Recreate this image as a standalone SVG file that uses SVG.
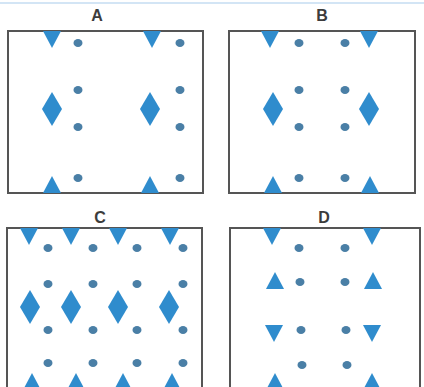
<svg xmlns="http://www.w3.org/2000/svg" width="424" height="387" viewBox="0 0 424 387">
<style>
.box{fill:#fff;stroke:#555;stroke-width:2}
.sh{fill:#2f8ccd}
.dot{fill:#4a7fa6}
.lbl{font-family:"Liberation Sans",Arial,sans-serif;font-size:16px;font-weight:bold;fill:#3c3c3c;text-anchor:middle}
</style>
<defs>
<polygon id="down" class="sh" points="-9,0 9,0 0,17"/>
<polygon id="up" class="sh" points="-9,0 9,0 0,-17"/>
<polygon id="dia" class="sh" points="0,-17 10,0 0,17 -10,0"/>
<ellipse id="dot" class="dot" rx="4.5" ry="4"/>
</defs>
<rect x="0" y="0" width="424" height="387" fill="#fff"/>
<rect x="0" y="2" width="424" height="2" fill="#d3e5f5"/>

<g id="panelA">
<text x="97" y="21" class="lbl">A</text>
<rect class="box" x="8" y="31" width="195" height="162"/>
<use href="#down" x="52" y="31"/><use href="#down" x="152" y="31"/>
<use href="#dia" x="52" y="109"/><use href="#dia" x="150" y="109"/>
<use href="#up" x="52" y="193"/><use href="#up" x="150" y="193"/>
<use href="#dot" x="78" y="43"/><use href="#dot" x="180" y="43"/>
<use href="#dot" x="78" y="90"/><use href="#dot" x="180" y="90"/>
<use href="#dot" x="78" y="127"/><use href="#dot" x="180" y="127"/>
<use href="#dot" x="78" y="178"/><use href="#dot" x="180" y="178"/>
</g>

<g id="panelB">
<text x="322" y="21" class="lbl">B</text>
<rect class="box" x="229" y="31" width="186" height="162"/>
<use href="#down" x="270" y="31"/><use href="#down" x="369" y="31"/>
<use href="#dia" x="273" y="109"/><use href="#dia" x="369" y="109"/>
<use href="#up" x="273" y="193"/><use href="#up" x="370" y="193"/>
<use href="#dot" x="299" y="43"/><use href="#dot" x="345" y="43"/>
<use href="#dot" x="299" y="90"/><use href="#dot" x="345" y="90"/>
<use href="#dot" x="299" y="127"/><use href="#dot" x="345" y="127"/>
<use href="#dot" x="299" y="178"/><use href="#dot" x="345" y="178"/>
</g>

<g id="panelC">
<text x="100" y="223" class="lbl">C</text>
<rect class="box" x="7" y="228" width="195" height="180"/>
<use href="#down" x="29" y="228"/><use href="#down" x="71" y="228"/><use href="#down" x="118" y="228"/><use href="#down" x="170" y="228"/>
<use href="#dia" x="30" y="307"/><use href="#dia" x="71" y="307"/><use href="#dia" x="118" y="307"/><use href="#dia" x="169" y="307"/>
<use href="#up" x="32" y="390"/><use href="#up" x="76" y="390"/><use href="#up" x="123" y="390"/><use href="#up" x="172" y="390"/>
<use href="#dot" x="48" y="248"/><use href="#dot" x="93" y="248"/><use href="#dot" x="137" y="248"/><use href="#dot" x="183" y="248"/>
<use href="#dot" x="48" y="284"/><use href="#dot" x="93" y="284"/><use href="#dot" x="137" y="284"/><use href="#dot" x="183" y="284"/>
<use href="#dot" x="48" y="330"/><use href="#dot" x="93" y="330"/><use href="#dot" x="137" y="330"/><use href="#dot" x="183" y="330"/>
<use href="#dot" x="48" y="363"/><use href="#dot" x="93" y="363"/><use href="#dot" x="137" y="363"/><use href="#dot" x="183" y="363"/>
</g>

<g id="panelD">
<text x="324" y="223" class="lbl">D</text>
<rect class="box" x="230" y="228" width="190" height="180"/>
<use href="#down" x="272" y="228"/><use href="#down" x="372" y="228"/>
<use href="#up" x="275" y="289"/><use href="#up" x="373" y="289"/>
<use href="#down" x="274" y="325"/><use href="#down" x="372" y="325"/>
<use href="#up" x="275" y="390"/><use href="#up" x="372" y="390"/>
<use href="#dot" x="299" y="248"/><use href="#dot" x="345" y="248"/>
<use href="#dot" x="300" y="282"/><use href="#dot" x="345" y="282"/>
<use href="#dot" x="301" y="330"/><use href="#dot" x="346" y="330"/>
<use href="#dot" x="302" y="365"/><use href="#dot" x="347" y="365"/>
</g>
</svg>
